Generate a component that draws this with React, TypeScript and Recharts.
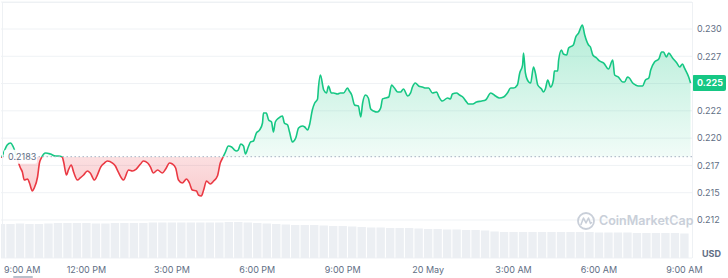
import React from 'react';
import { ComposedChart, Area, Bar, XAxis, YAxis, CartesianGrid, ReferenceLine } from 'recharts';

// minutes since 9:00 AM, 19 May
const minutes = [
  1, 7, 13, 20, 26, 35, 41, 45, 49, 56,
  60, 66, 70, 77, 81, 85, 94, 104, 115, 121,
  129, 132, 138, 142, 148, 153, 161, 167, 174, 182,
  188, 197, 203, 210, 218, 224, 235, 241, 247, 258,
  269, 277, 285, 294, 300, 309, 315, 321, 330, 340,
  347, 355, 361, 368, 374, 382, 391, 397, 403, 412,
  416, 422, 427, 433, 441, 448, 456, 462, 467, 473,
  479, 486, 492, 496, 500, 505, 511, 515, 521, 526,
  532, 538, 545, 551, 553, 559, 564, 570, 574, 578,
  585, 593, 597, 604, 608, 614, 621, 627, 635, 640,
  646, 650, 656, 661, 667, 669, 673, 680, 686, 690,
  696, 701, 709, 715, 722, 730, 734, 739, 745, 753,
  758, 762, 768, 774, 779, 785, 793, 800, 804, 810,
  817, 823, 829, 836, 842, 848, 857, 863, 867, 873,
  880, 888, 895, 901, 909, 918, 922, 930, 941, 947,
  951, 960, 966, 973, 981, 985, 994, 1002, 1013, 1021,
  1032, 1042, 1050, 1059, 1067, 1074, 1080, 1088, 1093, 1099,
  1101, 1105, 1112, 1116, 1122, 1126, 1131, 1139, 1143, 1147,
  1152, 1158, 1164, 1166, 1173, 1175, 1181, 1185, 1192, 1196,
  1206, 1211, 1217, 1225, 1230, 1238, 1242, 1247, 1255, 1261,
  1270, 1280, 1289, 1293, 1301, 1310, 1314, 1320, 1324, 1331,
  1337, 1343, 1352, 1358, 1365, 1369, 1377, 1386, 1392, 1396,
  1402, 1407, 1415, 1424, 1430, 1436, 1440, 1449, 1453,
];

const prices = [
  0.21818, 0.21882, 0.21937, 0.21955, 0.21919, 0.21800, 0.21726, 0.21690, 0.21616, 0.21626,
  0.21589, 0.21516, 0.21543, 0.21644, 0.21772, 0.21818, 0.21864, 0.21855, 0.21836, 0.21836,
  0.21827, 0.21781, 0.21662, 0.21708, 0.21754, 0.21690, 0.21616, 0.21635, 0.21662, 0.21699,
  0.21681, 0.21616, 0.21662, 0.21735, 0.21772, 0.21790, 0.21772, 0.21745, 0.21690, 0.21616,
  0.21708, 0.21699, 0.21717, 0.21763, 0.21790, 0.21772, 0.21735, 0.21681, 0.21708, 0.21681,
  0.21717, 0.21772, 0.21763, 0.21726, 0.21616, 0.21589, 0.21626, 0.21589, 0.21525, 0.21516,
  0.21479, 0.21470, 0.21525, 0.21607, 0.21580, 0.21607, 0.21653, 0.21772, 0.21818, 0.21873,
  0.21928, 0.21919, 0.21891, 0.21882, 0.21891, 0.21946, 0.21928, 0.21855, 0.21919, 0.21965,
  0.21974, 0.22047, 0.22075, 0.22139, 0.22230, 0.22230, 0.22166, 0.22148, 0.22056, 0.22148,
  0.22184, 0.22203, 0.22139, 0.22120, 0.22056, 0.21965, 0.22001, 0.22093, 0.22111, 0.22102,
  0.22075, 0.22120, 0.22258, 0.22322, 0.22359, 0.22468, 0.22578, 0.22441, 0.22414, 0.22478,
  0.22414, 0.22414, 0.22404, 0.22414, 0.22414, 0.22459, 0.22432, 0.22395, 0.22304, 0.22294,
  0.22194, 0.22322, 0.22395, 0.22368, 0.22267, 0.22249, 0.22239, 0.22276, 0.22359, 0.22368,
  0.22377, 0.22487, 0.22459, 0.22423, 0.22423, 0.22450, 0.22386, 0.22414, 0.22468, 0.22505,
  0.22478, 0.22468, 0.22459, 0.22459, 0.22414, 0.22423, 0.22386, 0.22340, 0.22368, 0.22359,
  0.22404, 0.22414, 0.22395, 0.22377, 0.22331, 0.22313, 0.22313, 0.22331, 0.22340, 0.22349,
  0.22414, 0.22386, 0.22368, 0.22377, 0.22414, 0.22459, 0.22459, 0.22487, 0.22597, 0.22670,
  0.22780, 0.22597, 0.22514, 0.22505, 0.22652, 0.22597, 0.22487, 0.22450, 0.22423, 0.22450,
  0.22533, 0.22468, 0.22533, 0.22615, 0.22615, 0.22716, 0.22808, 0.22771, 0.22762, 0.22826,
  0.22853, 0.22927, 0.22963, 0.23037, 0.22945, 0.22853, 0.22835, 0.22762, 0.22734, 0.22707,
  0.22688, 0.22633, 0.22716, 0.22578, 0.22560, 0.22514, 0.22514, 0.22560, 0.22551, 0.22505,
  0.22487, 0.22478, 0.22478, 0.22533, 0.22551, 0.22624, 0.22698, 0.22725, 0.22789, 0.22789,
  0.22743, 0.22780, 0.22734, 0.22688, 0.22652, 0.22679, 0.22643, 0.22560, 0.22505,
];

// volume (millions) in 20-minute buckets starting 9:00 AM
const volumeBucketMinutes = 20;
const volumes = [
  3.40, 3.40, 3.45, 3.40, 3.40, 3.45, 3.50, 3.50, 3.50, 3.50,
  3.45, 3.45, 3.50, 3.50, 3.50, 3.50, 3.55, 3.55, 3.55, 3.55,
  3.55, 3.55, 3.55, 3.55, 3.60, 3.60, 3.55, 3.50, 3.45, 3.40,
  3.35, 3.30, 3.30, 3.30, 3.25, 3.20, 3.20, 3.15, 3.10, 3.05,
  3.05, 3.00, 3.00, 3.00, 2.95, 2.90, 2.90, 2.85, 2.85, 2.80,
  2.80, 2.75, 2.65, 2.60, 2.60, 2.60, 2.60, 2.60, 2.60, 2.60,
  2.60, 2.60, 2.60, 2.55, 2.55, 2.55, 2.55, 2.50, 2.50, 2.50,
  2.50, 2.50, 2.45,
];

const openPrice = 0.2183;
const openLabel = '0.2183';
const currentLabel = '0.225';

const xTicks = [0, 180, 360, 540, 720, 900, 1080, 1260, 1440];
const xTickLabels = ['9:00 AM', '12:00 PM', '3:00 PM', '6:00 PM', '9:00 PM', '20 May', '3:00 AM', '6:00 AM', '9:00 AM'];
const yTicks = [0.2125, 0.215, 0.2175, 0.22, 0.2225, 0.225, 0.2275, 0.23];
const yTickLabels = ['0.212', '0.215', '0.217', '0.220', '0.222', '0.225', '0.227', '0.230'];

const GREEN = '#16c784';
const RED = '#ea3943';
const TEXT = '#616e85';
const FONT = 'Inter, "Noto Sans", sans-serif';

type Row = { t: number; price?: number; vol?: number };
const rowMap = new Map<number, Row>();
minutes.forEach((t, i) => {
  rowMap.set(t, { ...(rowMap.get(t) || { t }), price: prices[i] });
});
volumes.forEach((v, i) => {
  const t = i * volumeBucketMinutes;
  rowMap.set(t, { ...(rowMap.get(t) || { t }), vol: v });
});
const data: Row[] = Array.from(rowMap.values()).sort((a, b) => a.t - b.t);

const maxP = Math.max(...prices);
const minP = Math.min(...prices);
const split = (maxP - openPrice) / (maxP - minP);
const lastPrice = prices[prices.length - 1];

const XTick = (props: any) => {
  const { x, payload } = props;
  const idx = xTicks.indexOf(payload.value);
  const first = idx === 0;
  return (
    <text x={first ? 4 : x} y={273} textAnchor={first ? 'start' : 'middle'} fill={TEXT} fontSize={9} fontFamily={FONT}>
      {xTickLabels[idx]}
    </text>
  );
};

const YTick = (props: any) => {
  const { y, payload } = props;
  const idx = yTicks.indexOf(payload.value);
  if (yTickLabels[idx] === currentLabel) return <g />;
  return (
    <text x={697} y={y + 3.3} textAnchor="start" fill={TEXT} fontSize={9} fontFamily={FONT}>
      {yTickLabels[idx]}
    </text>
  );
};

const VolBar = (props: any) => {
  const { x, y, width, height } = props;
  if (!height || height <= 0) return <g />;
  const cx = x + width / 2;
  return <rect x={cx - 4.2} y={y} width={8.4} height={height} fill="#eceff3" />;
};

const OpenLabel = (props: any) => {
  const vb = props.viewBox || {};
  const y = vb.y ?? 0;
  return (
    <g>
      <rect x={4} y={y - 7} width={33} height={14} rx={2} fill="#ffffff" fillOpacity={0.92} />
      <text x={8} y={y + 3.3} fill={TEXT} fontSize={9} fontFamily={FONT}>{openLabel}</text>
    </g>
  );
};

const BadgeLabel = (props: any) => {
  const vb = props.viewBox || {};
  const y = vb.y ?? 0;
  const x = (vb.x ?? 0) + (vb.width ?? 0);
  return (
    <g>
      <rect x={x} y={y - 8} width={34} height={16} rx={2} fill={GREEN} />
      <text x={x + 5} y={y + 3.3} fill="#ffffff" fontSize={9} fontWeight={700} fontFamily={FONT}>{currentLabel}</text>
    </g>
  );
};

export default function App() {
  return (
    <div style={{ position: 'absolute', left: 0, top: 0, width: 728, height: 278, background: '#fff', fontFamily: FONT, overflow: 'hidden' }}>
      <ComposedChart width={728} height={278} data={data} margin={{ top: 2, right: 0, bottom: 0, left: 1 }}>
        <defs>
          <linearGradient id="lineSplit" x1="0" y1="0" x2="0" y2="1">
            <stop offset={split} stopColor={GREEN} />
            <stop offset={split} stopColor={RED} />
          </linearGradient>
          <linearGradient id="fillSplit" x1="0" y1="0" x2="0" y2="1">
            <stop offset={0} stopColor={GREEN} stopOpacity={0.32} />
            <stop offset={split} stopColor={GREEN} stopOpacity={0.06} />
            <stop offset={split} stopColor={RED} stopOpacity={0.16} />
            <stop offset={1} stopColor={RED} stopOpacity={0.26} />
          </linearGradient>
        </defs>
        <CartesianGrid yAxisId="price" vertical={false} stroke="#eff2f5" />
        <XAxis
          dataKey="t"
          type="number"
          domain={[0, 1456]}
          ticks={xTicks}
          interval={0}
          tick={<XTick />}
          axisLine={false}
          tickLine={false}
          height={20}
          allowDataOverflow
        />
        <YAxis
          yAxisId="price"
          orientation="right"
          width={36}
          domain={[0.209018, 0.232474]}
          ticks={yTicks}
          interval={0}
          tick={<YTick />}
          axisLine={false}
          tickLine={false}
          allowDataOverflow
        />
        <YAxis yAxisId="vol" hide domain={[0, 25.6]} />
        <Bar yAxisId="vol" dataKey="vol" shape={<VolBar />} isAnimationActive={false} />
        <Area
          yAxisId="price"
          dataKey="price"
          type="monotone"
          baseValue={openPrice}
          stroke="url(#lineSplit)"
          strokeWidth={1.6}
          fill="url(#fillSplit)"
          fillOpacity={1}
          connectNulls
          dot={false}
          activeDot={false}
          isAnimationActive={false}
        />
        <ReferenceLine yAxisId="price" y={openPrice} stroke="#a7b1c2" strokeDasharray="1.5 2.5" strokeWidth={1} label={<OpenLabel />} />
        <ReferenceLine yAxisId="price" y={lastPrice} stroke="none" label={<BadgeLabel />} />
      </ComposedChart>
      <div style={{ position: 'absolute', left: 2, top: 2, width: 691, height: 256, boxSizing: 'border-box', borderTop: '1px solid #eef1f4', borderLeft: '1px solid #eef1f4', borderRight: '1px solid #eef1f4', pointerEvents: 'none' }} />
      <div style={{ position: 'absolute', left: 576, top: 211, height: 20, display: 'flex', alignItems: 'center', pointerEvents: 'none' }}>
        <svg width={20} height={20} viewBox="0 0 20 20">
          <circle cx={10} cy={10} r={8} fill="none" stroke="#c9cfd9" strokeWidth={1.8} />
          <path d="M5 13.5 L7.5 7 L10 12 L12.5 7 L14.5 12.5 L15.5 11.5" fill="none" stroke="#c9cfd9" strokeWidth={1.6} strokeLinejoin="round" strokeLinecap="round" />
        </svg>
        <span style={{ marginLeft: 3, fontSize: 12.5, fontWeight: 600, color: '#c9cfd9', lineHeight: '20px' }}>CoinMarketCap</span>
      </div>
      <div style={{ position: 'absolute', left: 702, top: 248, fontSize: 9, fontWeight: 700, color: TEXT, lineHeight: '12px' }}>USD</div>
      <div style={{ position: 'absolute', left: 13, top: 276, width: 20, height: 1.5, background: '#b8c0cc', borderRadius: 1 }} />
    </div>
  );
}
